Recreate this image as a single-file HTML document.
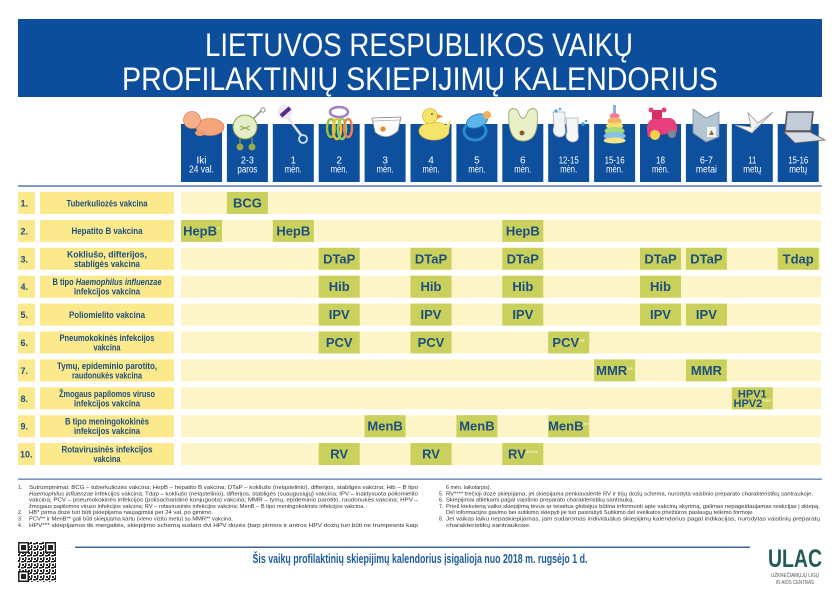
<!DOCTYPE html>
<html><head><meta charset="utf-8">
<style>
html,body{margin:0;padding:0;background:#fff;}
svg{display:block;}
.t{font-family:"Liberation Sans Narrow","Liberation Sans",sans-serif;}
.v{font-family:"Liberation Sans",sans-serif;font-weight:bold;fill:#1e4e7e;font-size:13px;text-anchor:middle;}
.n{font-family:"Liberation Sans Narrow","Liberation Sans",sans-serif;font-weight:bold;fill:#1e4e7e;font-size:9px;text-anchor:middle;}
.num{font-family:"Liberation Sans Narrow","Liberation Sans",sans-serif;font-weight:bold;fill:#1e4e7e;font-size:9px;}
.h{font-family:"Liberation Sans Narrow","Liberation Sans",sans-serif;fill:#fff;font-size:10px;text-anchor:middle;}
.f{font-family:"Liberation Sans",sans-serif;fill:#333;font-size:5.2px;}
.sup{font-size:7.5px;fill:#f3eeb0;}
</style></head>
<body>
<svg width="840" height="594" viewBox="0 0 840 594" xmlns="http://www.w3.org/2000/svg">
<rect width="840" height="594" fill="#fff"/>
<!-- Title -->
<rect x="18" y="19" width="804" height="78" fill="#0c4e9c"/>
<text class="t" x="419" y="56" font-size="32" fill="#fff" text-anchor="middle" textLength="428" lengthAdjust="spacingAndGlyphs">LIETUVOS RESPUBLIKOS VAIKŲ</text>
<text class="t" x="420" y="90" font-size="32" fill="#fff" text-anchor="middle" textLength="596" lengthAdjust="spacingAndGlyphs">PROFILAKTINIŲ SKIEPIJIMŲ KALENDORIUS</text>

<!-- Column header boxes -->
<g fill="#0e4f9e">
<rect x="181" y="124" width="41" height="58"/>
<rect x="226.9" y="124" width="41" height="58"/>
<rect x="272.8" y="124" width="41" height="58"/>
<rect x="318.7" y="124" width="41" height="58"/>
<rect x="364.6" y="124" width="41" height="58"/>
<rect x="410.5" y="124" width="41" height="58"/>
<rect x="456.4" y="124" width="41" height="58"/>
<rect x="502.3" y="124" width="41" height="58"/>
<rect x="548.2" y="124" width="41" height="58"/>
<rect x="594.1" y="124" width="41" height="58"/>
<rect x="640" y="124" width="41" height="58"/>
<rect x="685.9" y="124" width="41" height="58"/>
<rect x="731.8" y="124" width="41" height="58"/>
<rect x="777.7" y="124" width="41" height="58"/>
</g>
<g class="h">
<text x="201.5" y="163.5" textLength="10" lengthAdjust="spacingAndGlyphs">Iki</text><text x="201.5" y="172.5" textLength="25" lengthAdjust="spacingAndGlyphs">24 val.</text>
<text x="247.4" y="163.5" textLength="13" lengthAdjust="spacingAndGlyphs">2-3</text><text x="247.4" y="172.5" textLength="20" lengthAdjust="spacingAndGlyphs">paros</text>
<text x="293.3" y="163.5">1</text><text x="293.3" y="172.5" textLength="17" lengthAdjust="spacingAndGlyphs">mėn.</text>
<text x="339.2" y="163.5">2</text><text x="339.2" y="172.5" textLength="17" lengthAdjust="spacingAndGlyphs">mėn.</text>
<text x="385.1" y="163.5">3</text><text x="385.1" y="172.5" textLength="17" lengthAdjust="spacingAndGlyphs">mėn.</text>
<text x="431" y="163.5">4</text><text x="431" y="172.5" textLength="17" lengthAdjust="spacingAndGlyphs">mėn.</text>
<text x="476.9" y="163.5">5</text><text x="476.9" y="172.5" textLength="17" lengthAdjust="spacingAndGlyphs">mėn.</text>
<text x="522.8" y="163.5">6</text><text x="522.8" y="172.5" textLength="17" lengthAdjust="spacingAndGlyphs">mėn.</text>
<text x="568.7" y="163.5" textLength="20" lengthAdjust="spacingAndGlyphs">12-15</text><text x="568.7" y="172.5" textLength="17" lengthAdjust="spacingAndGlyphs">mėn.</text>
<text x="614.6" y="163.5" textLength="20" lengthAdjust="spacingAndGlyphs">15-16</text><text x="614.6" y="172.5" textLength="17" lengthAdjust="spacingAndGlyphs">mėn.</text>
<text x="660.5" y="163.5" textLength="9" lengthAdjust="spacingAndGlyphs">18</text><text x="660.5" y="172.5" textLength="17" lengthAdjust="spacingAndGlyphs">mėn.</text>
<text x="706.4" y="163.5" textLength="13" lengthAdjust="spacingAndGlyphs">6-7</text><text x="706.4" y="172.5" textLength="21" lengthAdjust="spacingAndGlyphs">metai</text>
<text x="752.3" y="163.5" textLength="8" lengthAdjust="spacingAndGlyphs">11</text><text x="752.3" y="172.5" textLength="18" lengthAdjust="spacingAndGlyphs">metų</text>
<text x="798.2" y="163.5" textLength="20" lengthAdjust="spacingAndGlyphs">15-16</text><text x="798.2" y="172.5" textLength="18" lengthAdjust="spacingAndGlyphs">metų</text>
</g>

<!-- Icons -->
<!-- baby -->
<g>
<ellipse cx="210" cy="127" rx="14" ry="8.5" fill="#f4a57c" stroke="#d9845c" stroke-width="0.8"/>
<circle cx="192" cy="120" r="8.5" fill="#f6b08a" stroke="#d9845c" stroke-width="0.8"/>
<ellipse cx="200" cy="133" rx="5" ry="3" fill="#ef9a70"/>
</g>
<!-- stroller -->
<g>
<line x1="252" y1="120" x2="261" y2="111" stroke="#8a8f80" stroke-width="1.5"/>
<circle cx="263" cy="110" r="2.2" fill="none" stroke="#8a8f80" stroke-width="1"/>
<line x1="240" y1="138" x2="240" y2="146" stroke="#8ea04a" stroke-width="1.2"/>
<line x1="252" y1="138" x2="252" y2="146" stroke="#8ea04a" stroke-width="1.2"/>
<circle cx="245" cy="127" r="12" fill="#e4eec8" stroke="#8ea04a" stroke-width="1"/>
<path d="M240 126 L250 130 M250 126 L240 130" stroke="#9aa048" stroke-width="1"/>
<circle cx="240" cy="147" r="3.5" fill="#9aaa48"/>
<circle cx="252" cy="147" r="3.5" fill="#9aaa48"/>
</g>
<!-- rattle -->
<g>
<line x1="288" y1="118" x2="301" y2="135" stroke="#e6e6f0" stroke-width="2.5"/>
<circle cx="303" cy="139" r="4" fill="none" stroke="#d0dcf4" stroke-width="1.8"/>
<circle cx="285" cy="112" r="7.5" fill="#efeaf4"/>
<line x1="281" y1="116" x2="290" y2="108" stroke="#5b2b86" stroke-width="4"/>
</g>
<!-- rings -->
<g fill="none" stroke-width="2.5">
<ellipse cx="339" cy="112" rx="9" ry="5" stroke="#a77cc8"/>
<ellipse cx="331" cy="128" rx="4" ry="9" stroke="#9ac040"/>
<ellipse cx="337" cy="129" rx="4" ry="10" stroke="#f0c030"/>
<ellipse cx="342" cy="129" rx="4" ry="10" stroke="#8fd060"/>
<ellipse cx="348" cy="128" rx="4" ry="9" stroke="#f08050"/>
</g>
<!-- diaper -->
<g>
<path d="M372 118 L401 117 L398 131 Q386 142 375 132 Z" fill="#fbfbfb" stroke="#8a8a8a" stroke-width="0.8"/>
<path d="M373 121 L400 120" stroke="#999" stroke-width="0.6"/>
<circle cx="383" cy="129" r="2.6" fill="#e88a2a"/>
</g>
<!-- duck -->
<g>
<ellipse cx="434" cy="131" rx="15" ry="9" fill="#f6e46a" stroke="#d8c040" stroke-width="0.8"/>
<path d="M444 127 L451 120 L449 130 Z" fill="#f6e46a"/>
<circle cx="430" cy="116" r="7.5" fill="#f6e46a" stroke="#d8c040" stroke-width="0.8"/>
<path d="M437 114 L443 116.5 L437 119 Z" fill="#f08a20"/>
<circle cx="432" cy="114" r="0.9" fill="#333"/>
</g>
<!-- pacifier -->
<g>
<ellipse cx="475" cy="131" rx="11" ry="9" fill="none" stroke="#2a8ad0" stroke-width="3"/>
<ellipse cx="477" cy="121" rx="11" ry="6.5" fill="#5bb5e8" stroke="#2a80c0" stroke-width="0.8" transform="rotate(-20 477 121)"/>
<circle cx="487" cy="115" r="4" fill="#f0b060"/>
</g>
<!-- bib -->
<g>
<path d="M509 111 Q507 141 523 141 Q540 141 537 111 Q533 106 528 111 Q523 126 518 111 Q513 106 509 111 Z" fill="#e9efc6" stroke="#9aa870" stroke-width="0.9"/>
<circle cx="522" cy="133" r="2.5" fill="#8a5a2a"/>
</g>
<!-- socks -->
<g>
<path d="M553 112 L565 112 L565 128 Q567 137 559 137 Q551 135 554 126 Z" fill="#f2f4f6" stroke="#a8b0bc" stroke-width="0.8"/>
<path d="M566 118 L578 118 L578 133 Q580 142 572 142 Q564 140 567 132 Z" fill="#f6f7f9" stroke="#a8b0bc" stroke-width="0.8"/>
<circle cx="556" cy="111" r="1.6" fill="#4aa0e0"/><circle cx="560" cy="109" r="1.3" fill="#4aa0e0"/>
<circle cx="583" cy="124" r="1.8" fill="#4aa0e0"/><circle cx="586" cy="121" r="1.3" fill="#4aa0e0"/>
</g>
<!-- stack toy -->
<g>
<rect x="613" y="105" width="3" height="9" fill="#88b0e0"/>
<ellipse cx="614.6" cy="116" rx="5" ry="3" fill="#f07aa0"/>
<ellipse cx="614.6" cy="121" rx="7" ry="3.5" fill="#f5b060"/>
<ellipse cx="614.6" cy="126" rx="8.5" ry="3.5" fill="#f3e070"/>
<ellipse cx="614.6" cy="131" rx="10" ry="4" fill="#a8d878"/>
<ellipse cx="614.6" cy="136" rx="11" ry="4" fill="#88c0e8"/>
<ellipse cx="614.6" cy="140.5" rx="11" ry="3" fill="#f5e48a"/>
</g>
<!-- car -->
<g>
<path d="M647 131 Q646 118 658 118 L670 118 Q678 120 677 132 L648 137 Z" fill="#e8407e"/>
<rect x="652" y="110" width="10" height="9" fill="#d83060"/>
<circle cx="651" cy="110" r="2.5" fill="#e8407e"/><circle cx="664" cy="110" r="2.5" fill="#e8407e"/>
<circle cx="655" cy="135" r="5" fill="#f5d24a"/>
<circle cx="672" cy="134" r="4" fill="#808890"/>
</g>
<!-- book -->
<g>
<path d="M693 109 L706 118 L719 112 L719 137 L706 142 L693 133 Z" fill="#b4c6d2" stroke="#7890a0" stroke-width="0.8"/>
<rect x="707" y="127" width="9" height="10" fill="#f4f4f0"/>
<path d="M709 135 L711.5 130 L714 135 Z" fill="#8a6a3a"/>
</g>
<!-- crane -->
<g>
<path d="M735 125 L752 133 L773 112 L758 123 L748 113 L751 127 Z" fill="#f4f4f4" stroke="#9a9a9a" stroke-width="0.8"/>
<path d="M752 133 L758 123" stroke="#bbb" stroke-width="0.6"/>
</g>
<!-- laptop -->
<g>
<path d="M787 112 L813 112 L811 131 L785 131 Z" fill="#c4ccda" stroke="#555" stroke-width="1.5"/>
<path d="M784 132 L810 132 L825 140 L795 143 Z" fill="#d8dce4" stroke="#666" stroke-width="0.8"/>
</g>

<!-- header separator line -->
<rect x="18" y="185" width="804" height="2" fill="#7d98c3"/>

<!-- Rows backgrounds -->
<g>
<g fill="#fbe98c">
<rect x="18" y="192" width="17" height="22"/><rect x="40" y="192" width="134" height="22"/>
<rect x="18" y="219.9" width="17" height="22"/><rect x="40" y="219.9" width="134" height="22"/>
<rect x="18" y="247.8" width="17" height="22"/><rect x="40" y="247.8" width="134" height="22"/>
<rect x="18" y="275.7" width="17" height="22"/><rect x="40" y="275.7" width="134" height="22"/>
<rect x="18" y="303.6" width="17" height="22"/><rect x="40" y="303.6" width="134" height="22"/>
<rect x="18" y="331.5" width="17" height="22"/><rect x="40" y="331.5" width="134" height="22"/>
<rect x="18" y="359.4" width="17" height="22"/><rect x="40" y="359.4" width="134" height="22"/>
<rect x="18" y="387.3" width="17" height="22"/><rect x="40" y="387.3" width="134" height="22"/>
<rect x="18" y="415.2" width="17" height="22"/><rect x="40" y="415.2" width="134" height="22"/>
<rect x="18" y="443.1" width="17" height="22"/><rect x="40" y="443.1" width="134" height="22"/>
</g>
<g fill="#fdf5c8">
<rect x="181" y="192" width="640" height="22"/>
<rect x="181" y="219.9" width="640" height="22"/>
<rect x="181" y="247.8" width="640" height="22"/>
<rect x="181" y="275.7" width="640" height="22"/>
<rect x="181" y="303.6" width="640" height="22"/>
<rect x="181" y="331.5" width="640" height="22"/>
<rect x="181" y="359.4" width="640" height="22"/>
<rect x="181" y="387.3" width="640" height="22"/>
<rect x="181" y="415.2" width="640" height="22"/>
<rect x="181" y="443.1" width="640" height="22"/>
</g>
</g>

<!-- Row numbers -->
<g class="num">
<text x="20.5" y="206.5">1.</text>
<text x="20.5" y="234.4">2.</text>
<text x="20.5" y="262.3">3.</text>
<text x="20.5" y="290.2">4.</text>
<text x="20.5" y="318.1">5.</text>
<text x="20.5" y="346">6.</text>
<text x="20.5" y="373.9">7.</text>
<text x="20.5" y="401.8">8.</text>
<text x="20.5" y="429.7">9.</text>
<text x="20" y="457.6">10.</text>
</g>

<!-- Row names -->
<g class="n">
<text x="107" y="206.3" textLength="81" lengthAdjust="spacingAndGlyphs">Tuberkuliozės vakcina</text>
<text x="107" y="234.2" textLength="71" lengthAdjust="spacingAndGlyphs">Hepatito B vakcina</text>
<text x="107" y="257.3" textLength="80" lengthAdjust="spacingAndGlyphs">Kokliušo, difterijos,</text>
<text x="107" y="266.8" textLength="66" lengthAdjust="spacingAndGlyphs">stabligės vakcina</text>
<text x="107" y="285.2" textLength="109" lengthAdjust="spacingAndGlyphs">B tipo <tspan font-style="italic">Haemophilus influenzae</tspan></text>
<text x="107" y="294.7" textLength="66" lengthAdjust="spacingAndGlyphs">infekcijos vakcina</text>
<text x="107" y="317.9" textLength="76" lengthAdjust="spacingAndGlyphs">Poliomielito vakcina</text>
<text x="107" y="341" textLength="95" lengthAdjust="spacingAndGlyphs">Pneumokokinės infekcijos</text>
<text x="107" y="350.5" textLength="27" lengthAdjust="spacingAndGlyphs">vakcina</text>
<text x="107" y="368.9" textLength="100" lengthAdjust="spacingAndGlyphs">Tymų, epideminio parotito,</text>
<text x="107" y="378.4" textLength="70" lengthAdjust="spacingAndGlyphs">raudonukės vakcina</text>
<text x="107" y="396.8" textLength="96" lengthAdjust="spacingAndGlyphs">Žmogaus papilomos viruso</text>
<text x="107" y="406.3" textLength="66" lengthAdjust="spacingAndGlyphs">infekcijos vakcina</text>
<text x="107" y="424.7" textLength="84" lengthAdjust="spacingAndGlyphs">B tipo meningokokinės</text>
<text x="107" y="434.2" textLength="66" lengthAdjust="spacingAndGlyphs">infekcijos vakcina</text>
<text x="107" y="452.6" textLength="91" lengthAdjust="spacingAndGlyphs">Rotavirusinės infekcijos</text>
<text x="107" y="462.1" textLength="27" lengthAdjust="spacingAndGlyphs">vakcina</text>
</g>

<!-- Vaccine cells -->
<g fill="#c9d05c">
<rect x="226.9" y="192" width="41" height="22"/>
<rect x="181" y="219.9" width="41" height="22"/><rect x="272.8" y="219.9" width="41" height="22"/><rect x="502.3" y="219.9" width="41" height="22"/>
<rect x="318.7" y="247.8" width="41" height="22"/><rect x="410.5" y="247.8" width="41" height="22"/><rect x="502.3" y="247.8" width="41" height="22"/><rect x="640" y="247.8" width="41" height="22"/><rect x="685.9" y="247.8" width="41" height="22"/><rect x="777.7" y="247.8" width="41" height="22"/>
<rect x="318.7" y="275.7" width="41" height="22"/><rect x="410.5" y="275.7" width="41" height="22"/><rect x="502.3" y="275.7" width="41" height="22"/><rect x="640" y="275.7" width="41" height="22"/>
<rect x="318.7" y="303.6" width="41" height="22"/><rect x="410.5" y="303.6" width="41" height="22"/><rect x="502.3" y="303.6" width="41" height="22"/><rect x="640" y="303.6" width="41" height="22"/><rect x="685.9" y="303.6" width="41" height="22"/>
<rect x="318.7" y="331.5" width="41" height="22"/><rect x="410.5" y="331.5" width="41" height="22"/><rect x="548.2" y="331.5" width="41" height="22"/>
<rect x="594.1" y="359.4" width="41" height="22"/><rect x="685.9" y="359.4" width="41" height="22"/>
<rect x="731.8" y="387.3" width="41" height="22"/>
<rect x="364.6" y="415.2" width="41" height="22"/><rect x="456.4" y="415.2" width="41" height="22"/><rect x="548.2" y="415.2" width="41" height="22"/>
<rect x="318.7" y="443.1" width="41" height="22"/><rect x="410.5" y="443.1" width="41" height="22"/><rect x="502.3" y="443.1" width="41" height="22"/>
</g>
<g class="v">
<text x="247.4" y="207.5">BCG</text>
<text x="201.5" y="235.4">HepB<tspan class="sup" fill="#fff" dy="-4">*</tspan></text>
<text x="293.3" y="235.4">HepB</text>
<text x="522.8" y="235.4">HepB</text>
<text x="339.2" y="263.3">DTaP</text><text x="431" y="263.3">DTaP</text><text x="522.8" y="263.3">DTaP</text><text x="660.5" y="263.3">DTaP</text><text x="706.4" y="263.3">DTaP</text><text x="798.2" y="263.3">Tdap</text>
<text x="339.2" y="291.2">Hib</text><text x="431" y="291.2">Hib</text><text x="522.8" y="291.2">Hib</text><text x="660.5" y="291.2">Hib</text>
<text x="339.2" y="319.1">IPV</text><text x="431" y="319.1">IPV</text><text x="522.8" y="319.1">IPV</text><text x="660.5" y="319.1">IPV</text><text x="706.4" y="319.1">IPV</text>
<text x="339.2" y="347">PCV</text><text x="431" y="347">PCV</text>
<text x="568.7" y="347">PCV<tspan class="sup" dy="-3">**</tspan></text>
<text x="614.6" y="374.9">MMR<tspan class="sup" dy="-3">**</tspan></text>
<text x="706.4" y="374.9">MMR</text>
<text x="752.3" y="397.3" font-size="11">HPV1</text>
<text x="752.3" y="406.8" font-size="11">HPV2<tspan class="sup" font-size="6" dy="-3">***</tspan></text>
<text x="385.1" y="430.7">MenB</text><text x="476.9" y="430.7">MenB</text>
<text x="568.7" y="430.7">MenB<tspan class="sup" font-size="6" dy="-3">**</tspan></text>
<text x="339.2" y="458.6">RV</text><text x="431" y="458.6">RV</text>
<text x="522.8" y="458.6">RV<tspan class="sup" font-size="6.5" dy="-3">****</tspan></text>
</g>

<!-- footnote separator -->
<rect x="18" y="478.5" width="804" height="1.3" fill="#5b7bb0"/>

<!-- Footnotes left -->
<g class="f">
<text x="18" y="489">1.</text>
<text x="29" y="489" textLength="389" lengthAdjust="spacingAndGlyphs">Sutrumpinimai: BCG – tuberkuliozės vakcina; HepB – hepatito B vakcina; DTaP – kokliušo (neląstelinio), difterijos, stabligės vakcina; Hib – B tipo</text>
<text x="29" y="495.3" textLength="389" lengthAdjust="spacingAndGlyphs"><tspan font-style="italic">Haemophilus influenzae</tspan> infekcijos vakcina; Tdap – kokliušo (neląstelinio), difterijos, stabligės (suaugusiųjų) vakcina; IPV – inaktyvuota poliomielito</text>
<text x="29" y="501.6" textLength="389" lengthAdjust="spacingAndGlyphs">vakcina; PCV – pneumokokinės infekcijos (polisacharidinė konjuguota) vakcina; MMR – tymų, epideminio parotito, raudonukės vakcina; HPV –</text>
<text x="29" y="507.9" textLength="336" lengthAdjust="spacingAndGlyphs">žmogaus papilomos viruso infekcijos vakcina; RV – rotavirusinės infekcijos vakcina; MenB – B tipo meningokokinės infekcijos vakcina.</text>
<text x="18" y="514.2">2.</text>
<text x="29" y="514.2" textLength="184" lengthAdjust="spacingAndGlyphs">HB* pirma dozė turi būti įskiepijama naujagimiui per 24 val. po gimimo.</text>
<text x="18" y="520.5">3.</text>
<text x="29" y="520.5" textLength="204" lengthAdjust="spacingAndGlyphs">PCV** ir MenB** gali būti skiepijama kartu (vieno vizito metu) su MMR** vakcina.</text>
<text x="18" y="526.8">4.</text>
<text x="29" y="526.8" textLength="389" lengthAdjust="spacingAndGlyphs">HPV*** skiepijamos tik mergaitės, skiepijimo schemą sudaro dvi HPV dozės (tarp pirmos ir antros HPV dozių turi būti ne trumpesnis kaip</text>
</g>
<!-- Footnotes right -->
<g class="f">
<text x="446" y="489" textLength="45" lengthAdjust="spacingAndGlyphs">6 mėn. laikotarpis).</text>
<text x="439" y="495.3">5.</text>
<text x="446" y="495.3" textLength="367" lengthAdjust="spacingAndGlyphs">RV**** trečioji dozė skiepijama, jei skiepijama penkiavalentė RV ir trijų dozių schema, nurodyta vaistinio preparato charakteristikų santraukoje.</text>
<text x="439" y="501.6">6.</text>
<text x="446" y="501.6" textLength="188" lengthAdjust="spacingAndGlyphs">Skiepijimai atliekami pagal vaistinio preparato charakteristikų santrauką.</text>
<text x="439" y="507.9">7.</text>
<text x="446" y="507.9" textLength="374" lengthAdjust="spacingAndGlyphs">Prieš kiekvieną vaiko skiepijimą tėvus ar teisėtus globėjus būtina informuoti apie vakcinų skyrimą, galimas nepageidaujamas reakcijas į skiepą.</text>
<text x="446" y="514.2" textLength="308" lengthAdjust="spacingAndGlyphs">Dėl informacijos gavimo bei sutikimo skiepyti jie turi pasirašyti Sutikimo dėl sveikatos priežiūros paslaugų teikimo formoje.</text>
<text x="439" y="520.5">8.</text>
<text x="446" y="520.5" textLength="374" lengthAdjust="spacingAndGlyphs">Jei vaikas laiku nepaskiepijamas, jam sudaromas individualus skiepijimų kalendorius pagal indikacijas, nurodytas vaistinių preparatų</text>
<text x="446" y="526.8" textLength="85" lengthAdjust="spacingAndGlyphs">charakteristikų santraukose.</text>
</g>

<!-- QR code -->
<g>
<rect x="18" y="542" width="38" height="40" fill="#fff"/>
<defs>
<pattern id="qr" x="18" y="542" width="6" height="6" patternUnits="userSpaceOnUse">
<rect width="6" height="6" fill="#fff"/>
<rect x="0" y="0" width="2" height="2" fill="#222"/>
<rect x="3" y="1" width="3" height="1.5" fill="#222"/>
<rect x="1" y="3" width="1.5" height="3" fill="#222"/>
<rect x="4" y="4" width="2" height="2" fill="#222"/>
</pattern>
</defs>
<rect x="18" y="542" width="38" height="40" fill="url(#qr)"/>
<g fill="#222">
<rect x="18" y="542" width="11" height="11"/><rect x="45" y="542" width="11" height="11"/><rect x="18" y="571" width="11" height="11"/>
</g>
<g fill="#fff">
<rect x="19.5" y="543.5" width="8" height="8"/><rect x="46.5" y="543.5" width="8" height="8"/><rect x="19.5" y="572.5" width="8" height="8"/>
</g>
<g fill="#222">
<rect x="21" y="545" width="5" height="5"/><rect x="48" y="545" width="5" height="5"/><rect x="21" y="574" width="5" height="5"/>
</g>
</g>

<!-- bottom line and text -->
<rect x="75" y="546.5" width="675" height="1.5" fill="#40639a"/>
<text class="t" x="420" y="563" font-size="12.5" font-weight="bold" fill="#1f5c9c" text-anchor="middle" textLength="335" lengthAdjust="spacingAndGlyphs">Šis vaikų profilaktinių skiepijimų kalendorius įsigalioja nuo 2018 m. rugsėjo 1 d.</text>

<!-- ULAC logo -->
<text x="768" y="567" font-family="Liberation Sans, sans-serif" font-weight="bold" font-size="25" fill="#245a5a" textLength="54" lengthAdjust="spacingAndGlyphs">ULAC</text>
<text x="795" y="577" font-family="Liberation Sans, sans-serif" font-size="5" fill="#555" text-anchor="middle" textLength="48" lengthAdjust="spacingAndGlyphs">UŽKREČIAMŲJŲ LIGŲ</text>
<text x="795" y="584" font-family="Liberation Sans, sans-serif" font-size="5" fill="#555" text-anchor="middle" textLength="38" lengthAdjust="spacingAndGlyphs">IR AIDS CENTRAS</text>
</svg>
</body></html>
